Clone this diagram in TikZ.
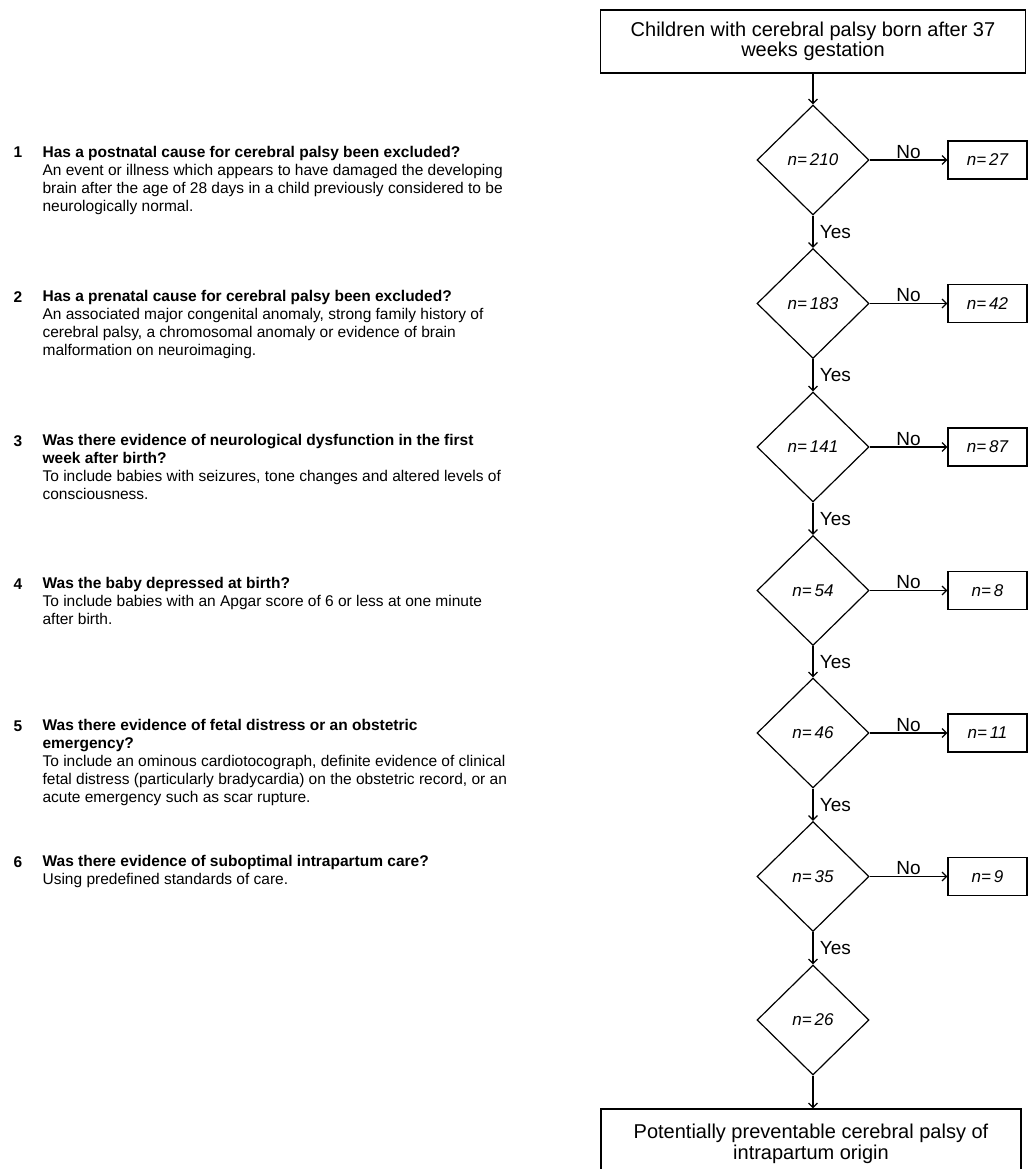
\documentclass[tikz,border=0pt]{standalone}
\usepackage{fontspec}
\setmainfont{Liberation Sans}
\usetikzlibrary{shapes.geometric, arrows.meta}

\tikzset{
    decision/.style={draw, diamond, minimum width=112pt, minimum height=110pt, inner sep=0pt, font=\fontsize{17}{20}\selectfont\itshape},
    outbox/.style={draw, minimum width=79pt, minimum height=38pt, font=\fontsize{17}{20}\selectfont\itshape},
    mainbox/.style={draw, align=center, minimum height=63pt, font=\fontsize{20}{20.5}\selectfont},
    question/.style={anchor=north west, inner sep=0pt, align=left, font=\fontsize{15.5}{18}\selectfont},
    qnum/.style={anchor=base west, inner sep=0pt, font=\fontsize{15.5}{18}\selectfont\bfseries},
    lbl/.style={font=\fontsize{19}{20}\selectfont},
    flow/.style={-{Straight Barb[length=4.5pt, width=9pt]}, line width=1.2pt},
}

\begin{document}
\begin{tikzpicture}[x=1pt, y=-1pt, line width=1.2pt]
    \useasboundingbox (0,0) rectangle (1028,1169);

    % flow chart column
    \node[mainbox, minimum width=425pt] (start) at (813,41.5) {Children with cerebral palsy born after 37\\weeks gestation};

    \node[decision] (d1) at (813,160) {n=\,210};
    \node[decision] (d2) at (813,303.5) {n=\,183};
    \node[decision] (d3) at (813,447) {n=\,141};
    \node[decision] (d4) at (813,590.5) {n=\,54};
    \node[decision] (d5) at (813,733) {n=\,46};
    \node[decision] (d6) at (813,876.5) {n=\,35};
    \node[decision] (d7) at (813,1020) {n=\,26};

    \node[outbox] (o1) at (987.5,160) {n=\,27};
    \node[outbox] (o2) at (987.5,303.5) {n=\,42};
    \node[outbox] (o3) at (987.5,447) {n=\,87};
    \node[outbox] (o4) at (987.5,590.5) {n=\,8};
    \node[outbox] (o5) at (987.5,733) {n=\,11};
    \node[outbox] (o6) at (987.5,876.5) {n=\,9};

    \node[mainbox, minimum width=420pt, minimum height=70pt] (end) at (811,1144) {Potentially preventable cerebral palsy of\\intrapartum origin};

    \draw[flow] (start) -- (d1);
    \draw[flow] (d1) -- node[lbl, right, xshift=3pt] {Yes} (d2);
    \draw[flow] (d2) -- node[lbl, right, xshift=3pt] {Yes} (d3);
    \draw[flow] (d3) -- node[lbl, right, xshift=3pt] {Yes} (d4);
    \draw[flow] (d4) -- node[lbl, right, xshift=3pt] {Yes} (d5);
    \draw[flow] (d5) -- node[lbl, right, xshift=3pt] {Yes} (d6);
    \draw[flow] (d6) -- node[lbl, right, xshift=3pt] {Yes} (d7);
    \draw[flow] (d7) -- (d7 |- end.north);

    \draw[flow] (d1) -- node[lbl, above, inner sep=1pt] {No} (o1);
    \draw[flow] (d2) -- node[lbl, above, inner sep=1pt] {No} (o2);
    \draw[flow] (d3) -- node[lbl, above, inner sep=1pt] {No} (o3);
    \draw[flow] (d4) -- node[lbl, above, inner sep=1pt] {No} (o4);
    \draw[flow] (d5) -- node[lbl, above, inner sep=1pt] {No} (o5);
    \draw[flow] (d6) -- node[lbl, above, inner sep=1pt] {No} (o6);

    % questions on the left
    \node[qnum] (n1) at (13,158) {1};
    \node[question] (q1) at (42,146) {\textbf{Has a postnatal cause for cerebral palsy been excluded?}\\An event or illness which appears to have damaged the developing\\brain after the age of 28 days in a child previously considered to be\\neurologically normal.};
    \node[qnum] (n2) at (13,302) {2};
    \node[question] (q2) at (42,290) {\textbf{Has a prenatal cause for cerebral palsy been excluded?}\\An associated major congenital anomaly, strong family history of\\cerebral palsy, a chromosomal anomaly or evidence of brain\\malformation on neuroimaging.};
    \node[qnum] (n3) at (13,446) {3};
    \node[question] (q3) at (42,434) {\textbf{Was there evidence of neurological dysfunction in the first}\\\textbf{week after birth?}\\To include babies with seizures, tone changes and altered levels of\\consciousness.};
    \node[qnum] (n4) at (13,589) {4};
    \node[question] (q4) at (42,577) {\textbf{Was the baby depressed at birth?}\\To include babies with an Apgar score of 6 or less at one minute\\after birth.};
    \node[qnum] (n5) at (13,731) {5};
    \node[question] (q5) at (42,719) {\textbf{Was there evidence of fetal distress or an obstetric}\\\textbf{emergency?}\\To include an ominous cardiotocograph, definite evidence of clinical\\fetal distress (particularly bradycardia) on the obstetric record, or an\\acute emergency such as scar rupture.};
    \node[qnum] (n6) at (13,867) {6};
    \node[question] (q6) at (42,855) {\textbf{Was there evidence of suboptimal intrapartum care?}\\Using predefined standards of care.};
\end{tikzpicture}
\end{document}
